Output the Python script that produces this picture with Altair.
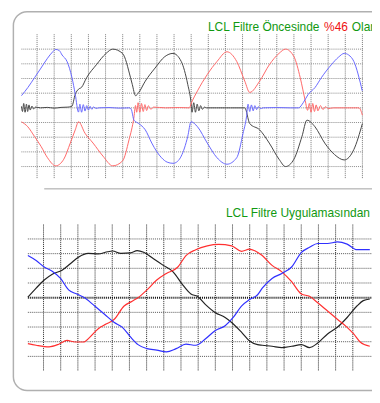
import altair as alt
import pandas as pd

# ---------------- data (grid units: 1 = one grid division) ----------------
TOP_BLUE_U = [-0.91, -0.54, -0.15, 0.23, 0.61, 0.9, 1.09, 1.3, 1.46, 1.75, 2.04, 2.23, 2.42, 2.5, 2.6, 2.7, 2.8, 2.9, 3.0, 3.1, 3.2, 3.3, 3.45, 3.6, 4.2, 4.8, 5.4, 5.5, 5.66, 5.94, 6.32, 6.7, 7.0, 7.27, 7.6, 7.94, 8.2, 8.42, 8.8, 8.99, 9.37, 9.94, 10.51, 11.09, 11.66, 12.03, 12.23, 12.32, 12.42, 12.52, 12.62, 12.72, 12.82, 12.92, 13.05, 13.2, 14.0, 14.8, 15.27, 15.56, 15.84, 16.23, 16.6, 17.18, 17.6, 17.94, 18.2, 18.5, 18.99]
TOP_BLUE_V = [0.83, 1.38, 2.05, 2.71, 3.38, 3.8, 3.98, 3.9, 3.6, 3.16, 2.05, 0.93, -0.29, 0.25, -0.3, 0.22, -0.22, 0.15, -0.15, 0.1, -0.1, 0.06, -0.04, 0.0, 0.02, -0.02, 0.0, -0.1, -0.84, -1.07, -1.5, -2.4, -3.0, -3.4, -3.7, -3.78, -3.65, -3.29, -1.95, -0.95, -1.29, -2.4, -3.4, -3.84, -3.4, -1.73, -0.62, 0.25, -0.25, 0.2, -0.2, 0.15, -0.12, 0.08, -0.05, 0.0, 0.02, 0.0, 0.0, 0.38, 0.93, 1.38, 2.05, 2.93, 3.45, 3.71, 3.6, 3.16, 1.16]

TOP_BLACK_U = [-0.91, -0.85, -0.78, -0.7, -0.62, -0.55, -0.47, -0.4, -0.3, -0.2, -0.1, 0.2, 0.6, 1.0, 1.4, 1.8, 2.03, 2.23, 2.42, 2.6, 2.89, 3.46, 4.03, 4.42, 4.99, 5.46, 5.56, 5.75, 5.94, 6.32, 6.89, 7.46, 7.94, 8.42, 8.8, 8.99, 9.05, 9.15, 9.25, 9.35, 9.45, 9.55, 9.65, 9.78, 9.9, 10.5, 11.3, 12.13, 12.42, 13.0, 13.56, 14.13, 14.51, 15.0, 15.47, 15.76, 16.23, 16.8, 17.37, 17.94, 18.5, 19.0]
TOP_BLACK_V = [0.1, -0.25, 0.3, -0.3, 0.25, -0.25, 0.2, -0.15, 0.12, -0.08, 0.05, 0.0, 0.03, -0.02, 0.03, 0.05, 0.1, 0.93, 1.27, 1.4, 2.05, 2.93, 3.71, 4.0, 3.71, 2.05, 1.6, 0.83, 1.05, 1.82, 2.71, 3.49, 3.71, 3.16, 1.6, 0.38, -0.3, 0.35, -0.3, 0.25, -0.2, 0.15, -0.1, 0.05, 0.0, 0.0, 0.0, 0.0, -1.07, -1.5, -2.4, -3.5, -4.0, -3.5, -1.95, -0.84, -1.29, -2.4, -3.18, -3.55, -2.84, -1.07]

TOP_RED_U = [-0.91, -0.54, -0.15, 0.23, 0.61, 1.09, 1.56, 1.94, 2.23, 2.42, 2.8, 3.27, 3.85, 4.42, 4.99, 5.37, 5.66, 5.75, 5.82, 5.9, 6.0, 6.1, 6.2, 6.3, 6.4, 6.5, 6.65, 6.8, 7.5, 8.3, 8.9, 8.99, 9.37, 9.94, 10.51, 11.09, 11.66, 12.13, 12.42, 13.0, 13.56, 14.13, 14.51, 15.0, 15.37, 15.66, 15.8, 15.9, 16.0, 16.1, 16.2, 16.3, 16.4, 16.55, 16.7, 16.85, 17.0, 17.3, 18.0, 18.8, 19.0]
TOP_RED_V = [-0.95, -1.29, -1.95, -2.62, -3.4, -3.95, -3.5, -2.4, -1.5, -0.95, -1.73, -2.4, -3.29, -3.95, -3.62, -2.18, -0.62, 0.16, -0.3, 0.35, -0.3, 0.3, -0.25, 0.22, -0.18, 0.14, -0.1, 0.05, 0.0, 0.02, 0.0, 0.27, 1.16, 2.27, 3.16, 3.82, 3.16, 1.82, 1.05, 1.82, 2.93, 3.71, 4.0, 3.49, 2.05, 0.49, -0.17, 0.3, -0.3, 0.3, -0.25, 0.2, -0.2, 0.15, -0.12, 0.08, -0.05, 0.0, 0.0, 0.0, -0.5]

BOT_BLACK_U = [-0.91, -0.43, 0.04, 0.51, 1.08, 1.56, 2.03, 2.6, 3.17, 3.74, 4.02, 4.5, 5.07, 5.45, 5.83, 6.4, 6.97, 7.54, 8.1, 8.58, 8.96, 9.43, 10.0, 10.57, 10.95, 11.52, 11.99, 12.46, 12.73, 13.3, 13.87, 14.44, 15.01, 15.48, 15.96, 16.53, 17.1, 17.67, 18.24, 18.61, 18.99]
BOT_BLACK_V = [0.03, 0.65, 1.2, 1.6, 1.87, 2.31, 2.76, 3.02, 2.98, 3.13, 3.18, 3.02, 3.05, 3.2, 3.09, 2.65, 2.2, 1.76, 0.87, 0.25, 0.09, -0.47, -1.02, -1.35, -1.69, -2.35, -2.95, -3.2, -3.24, -3.31, -3.4, -3.31, -3.2, -3.4, -3.09, -2.47, -2.02, -1.35, -0.57, -0.2, -0.09]

BOT_BLUE_U = [-0.91, -0.43, 0.04, 0.51, 0.99, 1.46, 1.94, 2.41, 2.98, 3.55, 4.12, 4.59, 5.07, 5.5, 6.02, 6.59, 7.15, 7.72, 8.29, 8.86, 9.43, 10.0, 10.57, 11.04, 11.52, 11.99, 12.46, 12.73, 13.3, 13.87, 14.44, 15.01, 15.48, 15.96, 16.53, 17.1, 17.67, 18.24, 18.81, 18.99]
BOT_BLUE_V = [2.87, 2.53, 2.09, 1.8, 1.31, 0.53, 0.25, -0.02, -0.57, -1.13, -1.69, -2.02, -2.69, -3.2, -3.47, -3.57, -3.69, -3.47, -3.17, -3.24, -2.8, -2.24, -1.91, -1.35, -0.57, -0.13, 0.2, 0.65, 1.31, 1.65, 2.09, 3.09, 3.43, 3.69, 3.69, 3.8, 3.65, 3.27, 3.27, 3.27]

BOT_RED_U = [-0.91, -0.43, 0.32, 0.89, 1.37, 1.84, 2.32, 2.7, 3.17, 3.64, 4.12, 4.69, 5.16, 5.5, 6.02, 6.59, 7.15, 7.82, 8.29, 8.86, 9.53, 10.19, 10.95, 11.52, 11.99, 12.3, 12.73, 13.3, 13.87, 14.44, 15.01, 15.48, 15.96, 16.53, 17.1, 17.67, 18.05, 18.43, 18.99]
BOT_RED_V = [-3.13, -3.24, -3.35, -3.17, -2.91, -3.02, -3.02, -2.69, -2.13, -1.8, -1.47, -0.57, -0.24, 0.0, 0.53, 1.2, 1.65, 2.09, 2.87, 3.27, 3.53, 3.63, 3.53, 3.16, 3.31, 3.2, 2.87, 2.2, 1.76, 1.09, 0.25, 0.09, -0.35, -0.91, -1.47, -2.02, -2.47, -3.02, -3.31]

TOP_GRID_U = list(range(0, 20))
BOT_GRID_U = list(range(0, 19))
GRID_V = [-4, -3, -2, -1, 0, 1, 2, 3, 4]

TITLE_TOP = ["LCL Filtre Öncesinde", "%46", "Olan"]
TITLE_BOT = "LCL Filtre Uygulamasından"

# ---------------- layout (page pixels) ----------------
W, H = 372, 395          # chart covers page x 8..380, y 8..403
OX, OY = 8, 8
# top panel grid geometry
T_X0, T_DX, T_Y0, T_DY = 37.7, 17.5, 105.7, 15.0
T_TOP, T_BOT, T_LEFT, T_RIGHT = 30.5, 178.5, 21.7, 370.5
# bottom panel grid geometry
B_X0, B_DX, B_Y0, B_DY = 44.3, 17.56, 299.7, 15.0
B_TOP, B_BOT, B_LEFT, B_RIGHT = 225.0, 375.0, 28.3, 380.0

def xdom(x0, dx):
    return [(OX - x0) / dx, (OX + W - x0) / dx]

def ydom(y0, dy):
    return [(y0 - (OY + H)) / dy, (y0 - OY) / dy]

def ux(px, x0, dx):
    return (px - x0) / dx

def vy(py, y0, dy):
    return (y0 - py) / dy

FONT = "Arial, Liberation Sans"
GREEN = "#119911"


def panel(series, grid_u, x0, dx, y0, dy, top, bot, left, right, gcol, vcol, center):
    xs = alt.Scale(domain=xdom(x0, dx), nice=False, zero=False)
    ys = alt.Scale(domain=ydom(y0, dy), nice=False, zero=False)
    vg = pd.DataFrame({"u": grid_u, "v0": vy(top, y0, dy), "v1": vy(bot, y0, dy)})
    hg = pd.DataFrame({"v": [g for g in GRID_V if g != 0 or not center],
                       "u0": ux(left, x0, dx), "u1": ux(right, x0, dx)})
    layers = [
        alt.Chart(vg).mark_rule(color=vcol, strokeWidth=1, strokeDash=[1, 1]).encode(
            x=alt.X("u:Q", scale=xs, axis=None),
            y=alt.Y("v0:Q", scale=ys, axis=None), y2="v1:Q"),
        alt.Chart(hg).mark_rule(color=gcol, strokeWidth=1, strokeDash=[1, 1]).encode(
            x=alt.X("u0:Q", scale=xs, axis=None), x2="u1:Q",
            y=alt.Y("v:Q", scale=ys, axis=None)),
    ]
    if center:
        cg = pd.DataFrame({"v": [0], "u0": ux(left, x0, dx), "u1": ux(right, x0, dx)})
        layers.append(alt.Chart(cg).mark_rule(color="#111", strokeWidth=2, strokeDash=[1, 1]).encode(
            x=alt.X("u0:Q", scale=xs, axis=None), x2="u1:Q",
            y=alt.Y("v:Q", scale=ys, axis=None)))
    for (us, vs, col, sw) in series:
        df = pd.DataFrame({"u": us, "v": vs, "i": range(len(us))})
        layers.append(alt.Chart(df).mark_line(color=col, strokeWidth=sw, interpolate="monotone").encode(
            x=alt.X("u:Q", scale=xs, axis=None),
            y=alt.Y("v:Q", scale=ys, axis=None),
            order="i:Q"))
    return alt.layer(*layers)


top = panel([(TOP_BLACK_U, TOP_BLACK_V, "#444444", 1.0),
             (TOP_RED_U, TOP_RED_V, "#ff6666", 1.0),
             (TOP_BLUE_U, TOP_BLUE_V, "#6666ff", 1.0)],
            TOP_GRID_U, T_X0, T_DX, T_Y0, T_DY, T_TOP, T_BOT, T_LEFT, T_RIGHT,
            "#8a8a8a", "#777777", False)

bottom = panel([(BOT_BLACK_U, BOT_BLACK_V, "#222222", 1.2),
                (BOT_RED_U, BOT_RED_V, "#ff3030", 1.2),
                (BOT_BLUE_U, BOT_BLUE_V, "#3030ff", 1.2)],
               BOT_GRID_U, B_X0, B_DX, B_Y0, B_DY, B_TOP, B_BOT, B_LEFT, B_RIGHT,
               "#555555", "#222222", True)

one = pd.DataFrame({"k": [0]})
frame = alt.Chart(one).mark_rect(fill=None, stroke="#b0b0b0", strokeWidth=1.5, cornerRadius=14).encode(
    x=alt.value(13.5 - OX), x2=alt.value(420 - OX), y=alt.value(7.5 - OY), y2=alt.value(394.5 - OY))
sep = alt.Chart(one).mark_rule(color="#a0a0a0", strokeWidth=1).encode(
    x=alt.value(45 - OX), x2=alt.value(380 - OX), y=alt.value(188.5 - OY))


def label(txt, px, py, col):
    return alt.Chart(one).mark_text(align="left", baseline="alphabetic", font=FONT,
                                    fontSize=12.2, color=col, text=txt).encode(
        x=alt.value(px - OX), y=alt.value(py - OY))


texts = [label(TITLE_TOP[0], 212.3, 26.7, GREEN),
         label(TITLE_TOP[1], 331.0, 26.7, "#ee1111"),
         label(TITLE_TOP[2], 359.3, 26.7, GREEN),
         label(TITLE_BOT, 230.7, 217.3, GREEN)]

deco = alt.layer(frame, sep, *texts)

chart = alt.layer(deco, top, bottom).resolve_scale(x="independent", y="independent").properties(
    width=W, height=H, padding=0, autosize=alt.AutoSizeParams(type="none")
).configure_view(stroke=None)

chart.save("out.html", embed_options={"renderer": "svg", "actions": False})
